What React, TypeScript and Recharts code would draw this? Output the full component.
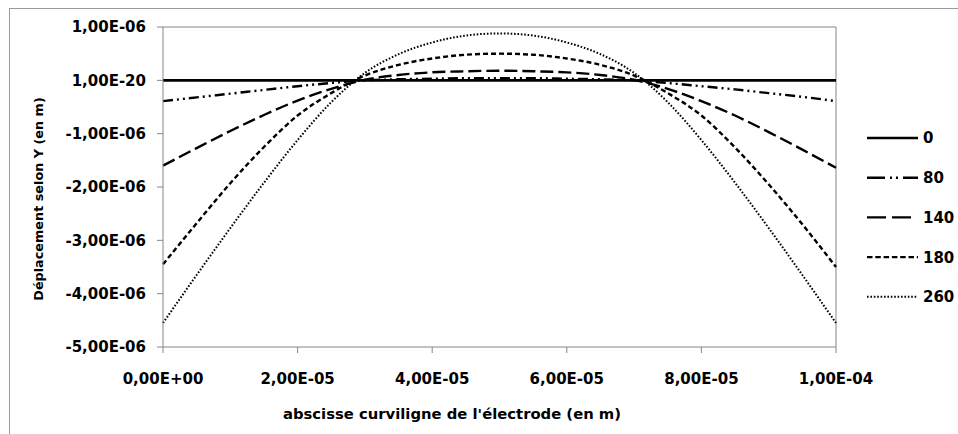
import React from 'react';
import { LineChart, Line, XAxis, YAxis, ReferenceLine, Legend, Label } from 'recharts';

// abscissa positions (m)
const xPositions = [
  0, 5e-6, 1e-5, 1.5e-5, 2e-5, 2.5e-5, 3e-5, 3.5e-5, 4e-5, 4.5e-5, 5e-5,
  5.5e-5, 6e-5, 6.5e-5, 7e-5, 7.5e-5, 8e-5, 8.5e-5, 9e-5, 9.5e-5, 1e-4,
];

// displacement values, in micrometres (1E-06 m)
const serie0 = [0, 0, 0, 0, 0, 0, 0, 0, 0, 0, 0, 0, 0, 0, 0, 0, 0, 0, 0, 0, 0];
const serie80 = [-0.39, -0.32, -0.25, -0.18, -0.11, -0.05, 0.0, 0.02, 0.03, 0.04, 0.04, 0.04, 0.03, 0.02, 0.0, -0.05, -0.11, -0.17, -0.24, -0.31, -0.39];
const serie140 = [-1.6, -1.27, -0.95, -0.65, -0.38, -0.16, 0.01, 0.1, 0.15, 0.17, 0.18, 0.17, 0.15, 0.1, 0.01, -0.16, -0.39, -0.66, -0.97, -1.3, -1.64];
const serie180 = [-3.45, -2.68, -1.93, -1.25, -0.66, -0.24, 0.09, 0.29, 0.41, 0.48, 0.5, 0.48, 0.41, 0.29, 0.09, -0.24, -0.66, -1.26, -1.95, -2.7, -3.5];
const serie260 = [-4.55, -3.65, -2.77, -1.92, -1.12, -0.41, 0.14, 0.49, 0.71, 0.84, 0.88, 0.84, 0.71, 0.49, 0.14, -0.41, -1.12, -1.92, -2.77, -3.65, -4.55];

const seriesNames = ['0', '80', '140', '180', '260'];
const seriesKeys = ['s0', 's80', 's140', 's180', 's260'];

const xTicks = [0, 2e-5, 4e-5, 6e-5, 8e-5, 1e-4];
const xTickLabels = ['0,00E+00', '2,00E-05', '4,00E-05', '6,00E-05', '8,00E-05', '1,00E-04'];
const yTicks = [1, 0, -1, -2, -3, -4, -5];
const yTickLabels = ['1,00E-06', '1,00E-20', '-1,00E-06', '-2,00E-06', '-3,00E-06', '-4,00E-06', '-5,00E-06'];

const xTitle = "abscisse curviligne de l'électrode (en m)";
const yTitle = 'Déplacement selon Y (en m)';

const data = xPositions.map((x, i) => ({
  x,
  s0: serie0[i],
  s80: serie80[i],
  s140: serie140[i],
  s180: serie180[i],
  s260: serie260[i],
}));

const lineStyles = [
  { dash: undefined as string | undefined, width: 2.6, legendDash: undefined as string | undefined },
  { dash: '10 4 2 4 2 4', width: 2.4, legendDash: '18 5 2 4 2 5' },
  { dash: '13 5', width: 2.4, legendDash: '19 6' },
  { dash: '5 3', width: 2.4, legendDash: '5.5 2.8' },
  { dash: '1.6 1.8', width: 2, legendDash: '1.6 1.8' },
];

const FONT = 'DejaVu Sans';
const AXIS_GRAY = '#868686';

const findLabel = (ticks: number[], labels: string[], v: number) => {
  const i = ticks.findIndex((t) => Math.abs(t - v) < 1e-12 + Math.abs(t) * 1e-6);
  return i >= 0 ? labels[i] : '';
};

const LegendContent = () => (
  <svg width={96} height={200} style={{ display: 'block' }}>
    {seriesNames.map((name, i) => {
      const cy = 20 + i * 39.7;
      const st = lineStyles[i];
      return (
        <g key={name}>
          <line
            x1={5}
            x2={i === 2 ? 52 : 56}
            y1={cy}
            y2={cy}
            stroke="#000"
            strokeWidth={st.width}
            strokeDasharray={st.legendDash}
          />
          <text
            x={61}
            y={cy}
            dy="0.36em"
            fontFamily={FONT}
            fontWeight="bold"
            fontSize={15}
            fill="#000"
          >
            {name}
          </text>
        </g>
      );
    })}
  </svg>
);

export default function App() {
  return (
    <div style={{ position: 'absolute', left: 0, top: 0, width: 958, height: 434, background: '#fff' }}>
      <div
        style={{
          position: 'absolute',
          left: 9,
          top: 8,
          width: 960,
          height: 440,
          borderLeft: '1px solid #9a9a9a',
          borderTop: '1px solid #9a9a9a',
          boxSizing: 'border-box',
        }}
      />
      <div style={{ position: 'absolute', left: 0, top: 0 }}>
        <LineChart
          width={958}
          height={434}
          data={data}
          margin={{ top: 27, right: 26, bottom: 0, left: 0 }}
        >
          <XAxis
            dataKey="x"
            type="number"
            domain={[0, 1e-4]}
            ticks={xTicks}
            interval={0}
            tickFormatter={(v: number) => findLabel(xTicks, xTickLabels, v)}
            stroke={AXIS_GRAY}
            tickSize={6}
            tickMargin={20}
            height={87}
            tick={{ fill: '#000', fontSize: 15, fontFamily: FONT, fontWeight: 'bold' }}
          >
            <Label
              content={() => (
                <text
                  x={452}
                  y={414}
                  dy="0.36em"
                  textAnchor="middle"
                  fontFamily={FONT}
                  fontWeight="bold"
                  fontSize={14.8}
                  fill="#000"
                >
                  {xTitle}
                </text>
              )}
            />
          </XAxis>
          <YAxis
            type="number"
            domain={[-5, 1]}
            ticks={yTicks}
            interval={0}
            tickFormatter={(v: number) => findLabel(yTicks, yTickLabels, v)}
            stroke={AXIS_GRAY}
            tickSize={6}
            tickMargin={11}
            width={163}
            tick={{ fill: '#000', fontSize: 15, fontFamily: FONT, fontWeight: 'bold' }}
          >
            <Label
              content={() => (
                <text
                  x={38}
                  y={199}
                  dy="0.36em"
                  textAnchor="middle"
                  transform="rotate(-90 38 199)"
                  fontFamily={FONT}
                  fontWeight="bold"
                  fontSize={12.8}
                  fill="#000"
                >
                  {yTitle}
                </text>
              )}
            />
          </YAxis>
          <ReferenceLine y={1} stroke={AXIS_GRAY} strokeWidth={1} />
          <ReferenceLine x={1e-4} stroke={AXIS_GRAY} strokeWidth={1} />
          {seriesKeys.map((k, i) => (
            <Line
              key={k}
              dataKey={k}
              name={seriesNames[i]}
              type="monotone"
              stroke="#000"
              strokeWidth={lineStyles[i].width}
              strokeDasharray={lineStyles[i].dash}
              dot={false}
              activeDot={false}
              isAnimationActive={false}
            />
          ))}
          <Legend
            layout="vertical"
            align="right"
            verticalAlign="middle"
            width={96}
            content={() => <LegendContent />}
            wrapperStyle={{ left: 862, top: 118, width: 96, height: 200 }}
          />
        </LineChart>
      </div>
    </div>
  );
}
